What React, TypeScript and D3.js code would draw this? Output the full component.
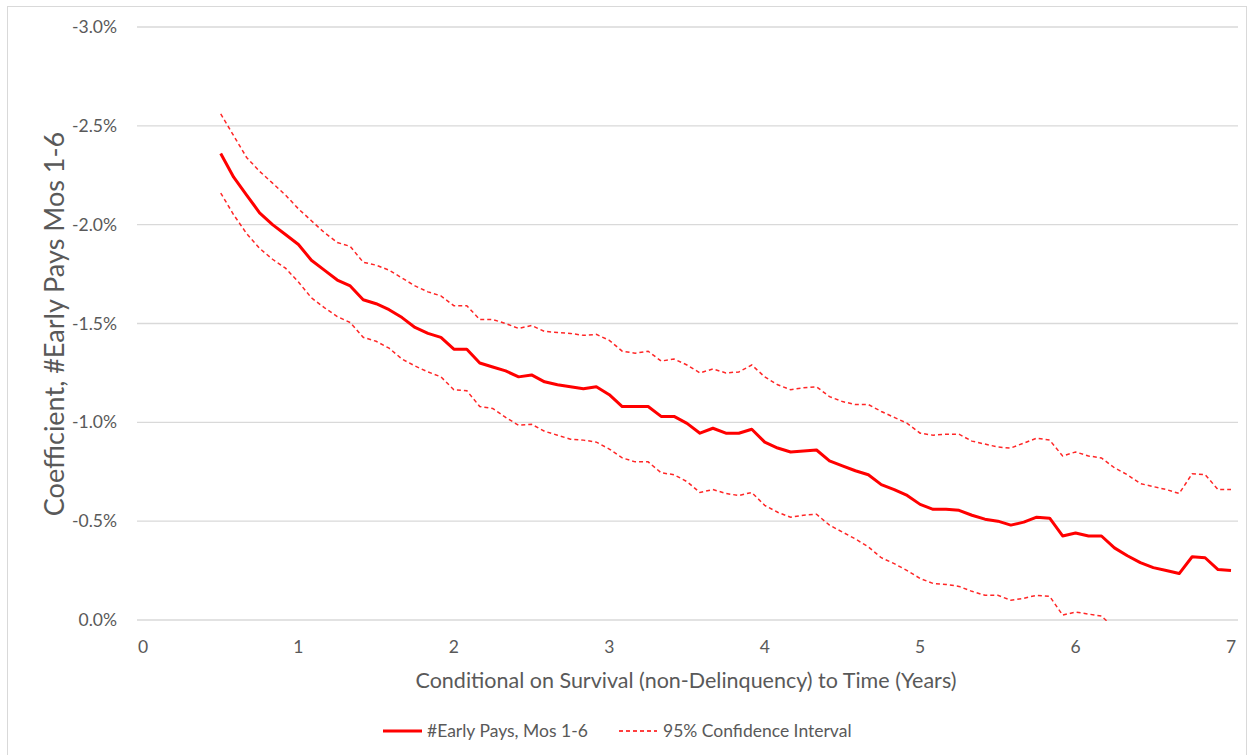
import React, { useEffect, useRef } from 'react'
import * as d3 from 'd3'

// months since origination (x = month / 12 years)
const months = [
  6, 7, 8, 9, 10, 11, 12, 13, 14, 15, 16, 17, 18, 19, 20, 21,
  22, 23, 24, 25, 26, 27, 28, 29, 30, 31, 32, 33, 34, 35, 36, 37,
  38, 39, 40, 41, 42, 43, 44, 45, 46, 47, 48, 49, 50, 51, 52, 53,
  54, 55, 56, 57, 58, 59, 60, 61, 62, 63, 64, 65, 66, 67, 68, 69,
  70, 71, 72, 73, 74, 75, 76, 77, 78, 79, 80, 81, 82, 83, 84,
]

// coefficient, in %
const coef = [
  -2.36, -2.24, -2.15, -2.06, -2.0, -1.95, -1.9, -1.82, -1.77, -1.72, -1.69, -1.62, -1.6, -1.57, -1.53, -1.48,
  -1.45, -1.43, -1.37, -1.37, -1.3, -1.28, -1.26, -1.23, -1.24, -1.205, -1.19, -1.18, -1.17, -1.18, -1.14, -1.08,
  -1.08, -1.08, -1.03, -1.03, -0.995, -0.945, -0.97, -0.945, -0.945, -0.965, -0.9, -0.87, -0.85, -0.855, -0.86, -0.805,
  -0.78, -0.755, -0.735, -0.685, -0.66, -0.63, -0.585, -0.56, -0.56, -0.555, -0.53, -0.51, -0.5, -0.48, -0.495, -0.52,
  -0.515, -0.425, -0.44, -0.425, -0.425, -0.365, -0.325, -0.29, -0.265, -0.25, -0.235, -0.32, -0.315, -0.255, -0.25,
]

const ciUpper = [
  -2.56, -2.45, -2.34, -2.27, -2.21, -2.15, -2.08, -2.02, -1.96, -1.91, -1.89, -1.81, -1.795, -1.77, -1.73, -1.69,
  -1.66, -1.64, -1.59, -1.59, -1.52, -1.52, -1.5, -1.475, -1.49, -1.46, -1.455, -1.45, -1.44, -1.445, -1.415, -1.36,
  -1.35, -1.36, -1.31, -1.32, -1.29, -1.25, -1.27, -1.25, -1.255, -1.29, -1.23, -1.19, -1.165, -1.175, -1.18, -1.13,
  -1.105, -1.09, -1.09, -1.055, -1.025, -0.995, -0.945, -0.935, -0.94, -0.94, -0.905, -0.89, -0.875, -0.87, -0.895, -0.92,
  -0.91, -0.83, -0.85, -0.83, -0.82, -0.77, -0.735, -0.69, -0.675, -0.66, -0.64, -0.74, -0.735, -0.66, -0.66,
]

const ciLower = [
  -2.16, -2.05, -1.955, -1.88, -1.825, -1.78, -1.71, -1.63, -1.58, -1.535, -1.505, -1.43, -1.41, -1.375, -1.32, -1.285,
  -1.255, -1.23, -1.165, -1.16, -1.08, -1.07, -1.025, -0.985, -0.99, -0.955, -0.935, -0.915, -0.91, -0.9, -0.865, -0.82,
  -0.8, -0.8, -0.745, -0.735, -0.7, -0.645, -0.66, -0.64, -0.63, -0.645, -0.58, -0.545, -0.52, -0.53, -0.535, -0.48,
  -0.445, -0.41, -0.37, -0.315, -0.285, -0.25, -0.21, -0.185, -0.18, -0.17, -0.145, -0.125, -0.125, -0.1, -0.11, -0.125,
  -0.12, -0.025, -0.04, -0.03, -0.02, 0.04, 0.085, 0.11, 0.145, 0.16, 0.17, 0.1, 0.105, 0.15, 0.16,
]

const yTicks = [-3, -2.5, -2, -1.5, -1, -0.5, 0]
const xTicks = [0, 1, 2, 3, 4, 5, 6, 7]

const W = 1253
const H = 755
const FONT = 'Lato, "Open Sans", sans-serif'
const GREY = '#595959'
const RED = '#ff0000'

export default function App() {
  const ref = useRef<SVGSVGElement | null>(null)

  useEffect(() => {
    const svg = d3.select(ref.current)
    svg.selectAll('*').remove()

    const x = d3.scaleLinear().domain([0, 7]).range([143, 1231])
    const y = d3.scaleLinear().domain([-3, 0]).range([27, 620])

    // chart border
    svg
      .append('rect')
      .attr('x', 7.5)
      .attr('y', 6.5)
      .attr('width', W - 14)
      .attr('height', H - 6)
      .attr('fill', 'white')
      .attr('stroke', '#d9d9d9')

    // gridlines
    svg
      .append('g')
      .selectAll('line')
      .data(yTicks)
      .join('line')
      .attr('x1', 137)
      .attr('x2', 1238)
      .attr('y1', (d) => y(d))
      .attr('y2', (d) => y(d))
      .attr('stroke', '#d9d9d9')
      .attr('stroke-width', 1.3)

    // y tick labels
    svg
      .append('g')
      .selectAll('text')
      .data(yTicks)
      .join('text')
      .attr('x', 117)
      .attr('y', (d) => y(d))
      .attr('dy', '0.35em')
      .attr('text-anchor', 'end')
      .attr('font-family', FONT)
      .attr('font-size', 17.5)
      .attr('fill', GREY)
      .text((d) => d.toFixed(1) + '%')

    // x tick labels
    svg
      .append('g')
      .selectAll('text')
      .data(xTicks)
      .join('text')
      .attr('x', (d) => x(d))
      .attr('y', 647)
      .attr('dy', '0.35em')
      .attr('text-anchor', 'middle')
      .attr('font-family', FONT)
      .attr('font-size', 17.5)
      .attr('fill', GREY)
      .text((d) => String(d))

    // axis titles
    svg
      .append('text')
      .attr('transform', 'translate(55,324) rotate(-90)')
      .attr('dy', '0.35em')
      .attr('text-anchor', 'middle')
      .attr('font-family', FONT)
      .attr('font-size', 27)
      .attr('fill', GREY)
      .text('Coefficient, #Early Pays Mos 1-6')

    svg
      .append('text')
      .attr('x', 686)
      .attr('y', 680)
      .attr('dy', '0.35em')
      .attr('text-anchor', 'middle')
      .attr('font-family', FONT)
      .attr('font-size', 21.5)
      .attr('fill', GREY)
      .text('Conditional on Survival (non-Delinquency) to Time (Years)')

    // lines, clipped to plot area like Excel does
    svg
      .append('clipPath')
      .attr('id', 'plot-clip')
      .append('rect')
      .attr('x', 137)
      .attr('y', 20)
      .attr('width', 1101)
      .attr('height', 601)

    const line = (vals: number[]) =>
      d3
        .line<number>()
        .x((_, i) => x(months[i] / 12))
        .y((d) => y(d))(vals)

    const plot = svg.append('g').attr('clip-path', 'url(#plot-clip)')

    ;[ciUpper, ciLower].forEach((vals) => {
      plot
        .append('path')
        .attr('d', line(vals))
        .attr('fill', 'none')
        .attr('stroke', RED)
        .attr('stroke-opacity', 0.85)
        .attr('stroke-width', 1.5)
        .attr('stroke-dasharray', '4,3')
    })

    plot
      .append('path')
      .attr('d', line(coef))
      .attr('fill', 'none')
      .attr('stroke', RED)
      .attr('stroke-width', 3)
      .attr('stroke-linejoin', 'round')

    // legend
    const legend = svg.append('g').attr('font-family', FONT).attr('font-size', 17.5).attr('fill', GREY)
    legend
      .append('line')
      .attr('x1', 383)
      .attr('x2', 422)
      .attr('y1', 731)
      .attr('y2', 731)
      .attr('stroke', RED)
      .attr('stroke-width', 3)
    legend.append('text').attr('x', 427).attr('y', 731).attr('dy', '0.35em').text('#Early Pays, Mos 1-6')
    legend
      .append('line')
      .attr('x1', 619)
      .attr('x2', 657)
      .attr('y1', 731)
      .attr('y2', 731)
      .attr('stroke', RED)
      .attr('stroke-width', 1.3)
      .attr('stroke-dasharray', '4,3')
    legend.append('text').attr('x', 663).attr('y', 731).attr('dy', '0.35em').text('95% Confidence Interval')
  }, [])

  return (
    <svg
      ref={ref}
      width={W}
      height={H}
      style={{ position: 'absolute', left: 0, top: 0, background: 'white' }}
    />
  )
}
